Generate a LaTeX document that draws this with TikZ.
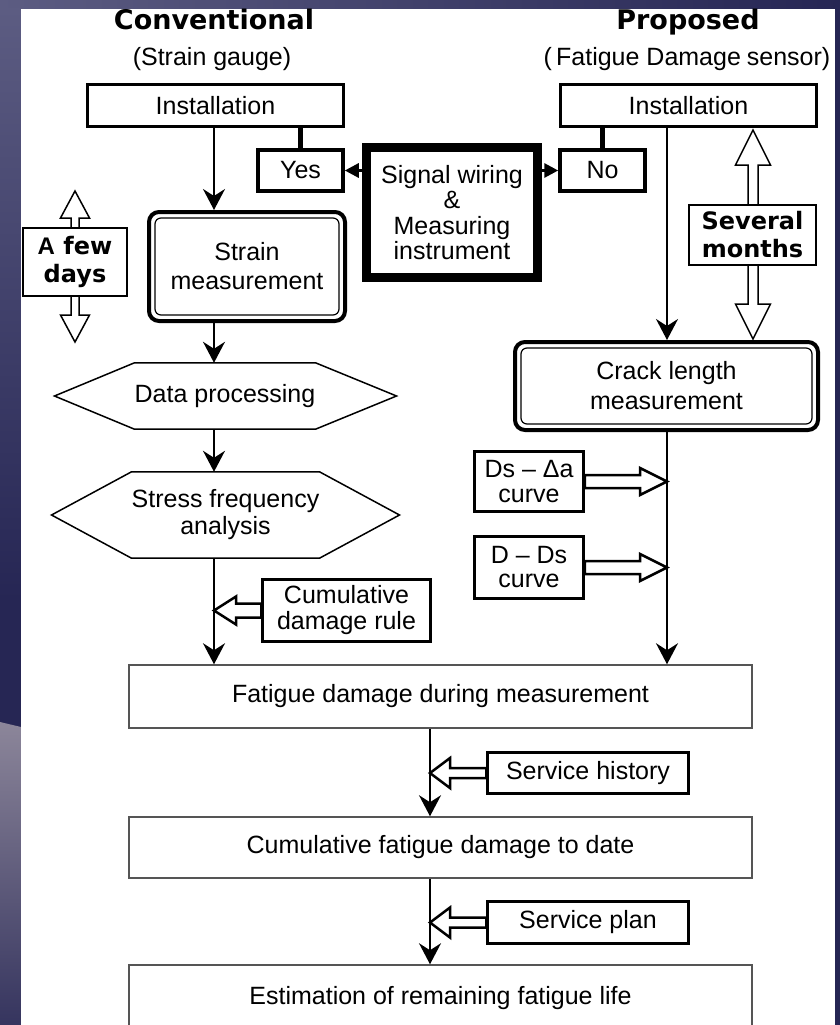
\documentclass[tikz,border=0pt]{standalone}
\usepackage{fontspec}
\setmainfont{Liberation Sans}
\newfontfamily\heavy{DejaVu Sans}
\usetikzlibrary{arrows.meta,calc}

\definecolor{navy}{RGB}{38,38,84}
\definecolor{slateL}{RGB}{92,92,130}
\definecolor{slateM}{RGB}{142,138,164}
\definecolor{slateW}{RGB}{140,134,154}
\definecolor{frame}{RGB}{85,85,85}

% hollow side arrow: #1 box anchor, #2 tip, #3 shaft half, #4 head half, #5 head length
\newcommand{\sidearrow}[5]{%
  \draw[hollow] (#2) -- ($(#2)!#5pt!(#1)+(0,#4)$) -- ($(#2)!#5pt!(#1)+(0,#3)$)
    -- ($(#1)+(0,#3)$) -- ($(#1)+(0,-#3)$) -- ($(#2)!#5pt!(#1)+(0,-#3)$)
    -- ($(#2)!#5pt!(#1)+(0,-#4)$) -- cycle;}
% hollow double arrow, vertical: #1 top tip, #2 bottom tip, #3 shaft half, #4 head half, #5 head length
\newcommand{\spanarrow}[5]{%
  \draw[hollow, line width=1.5pt] (#1) -- ++(#4,#5) -- ++({#3-#4},0) -- ($(#2)+(#3,-#5)$)
    -- ++({#4-#3},0) -- (#2) -- ++(-#4,-#5) -- ++({#4-#3},0) -- ($(#1)+(-#3,#5)$)
    -- ++({#3-#4},0) -- cycle;}

\begin{document}
\begin{tikzpicture}[x=1pt,y=-1pt,
  font=\fontsize{25}{27}\selectfont,
  box/.style={draw, line width=2.5pt, inner sep=0pt, align=center, fill=white},
  thinbox/.style={draw=frame, line width=1.5pt, inner sep=0pt, align=center, fill=white},
  choice/.style={draw, line width=3.5pt, inner sep=0pt, minimum width=85pt, minimum height=41pt},
  measure/.style={draw, line width=4pt, rounded corners=10pt, inner sep=0pt, align=center},
  heading/.style={anchor=base, font=\heavy\bfseries\fontsize{27}{30}\selectfont},
  period/.style={thinbox, draw=black, font=\heavy\bfseries\fontsize{24}{28}\selectfont},
  hollow/.style={draw, fill=white, line width=2.5pt, line join=miter},
  hexline/.style={draw, line width=1.5pt},
  flow/.style={line width=2pt, -{Stealth[length=21pt,width=22pt,inset=7pt]}},
  wire/.style={line width=3pt, -{Triangle[length=14pt,width=14pt]}}]

\useasboundingbox (0,0) rectangle (840,1025);
\clip (0,0) rectangle (840,1025);

% slide background
\fill[navy] (0,0) rectangle (840,1025);
\shade[left color=slateL, middle color=slateM, right color=navy] (0,0) rectangle (840,9);
\shade[top color=slateL, bottom color=navy] (0,9) rectangle (21,600);
\shade[top color=slateW, bottom color=navy!85!slateW] (0,722) -- (21,727) -- (21,1025) -- (0,1025) -- cycle;
\shade[top color=navy, middle color=navy!80!slateW, bottom color=navy] (835,0) rectangle (840,1025);
\fill[white] (21,9) rectangle (835,1025);

\coordinate (cl) at (214,0);
\coordinate (cr) at (667,0);
\coordinate (cm) at (430,0);

\node[heading] (conv) at (214,30) {Conventional};
\node[anchor=base] (convsub) at (212,66) {(Strain gauge)};
\node[heading] (prop) at (688,30) {Proposed};
\node[anchor=base] (propsub) at (687,66) {(\,Fatigue Damage\hspace{6pt}sensor)};

\node[box, minimum width=256pt, minimum height=42pt] (inst1) at (215.5,105.5) {Installation};
\node[box, minimum width=256pt, minimum height=42pt] (inst2) at (688.5,105.5) {Installation};

\node[choice] (yes) at (300.5,170.5) {Yes};
\node[choice] (no) at (602.5,170.5) {No};
\node[draw, line width=9pt, inner sep=0pt, minimum width=171pt, minimum height=130pt,
  align=center, font=\fontsize{25}{25.5}\selectfont] (sig) at (452,212.5)
  {Signal wiring\\\&\\Measuring\\instrument};

\draw[line width=5pt] (inst1.south -| yes.north) -- (yes.north);
\draw[line width=5pt] (inst2.south -| no.north) -- (no.north);
\draw[wire] (yes.east -| sig.west) -- (yes.east);
\draw[wire] (no.west -| sig.east) -- (no.west);

\node[measure, minimum width=196pt, minimum height=109pt, font=\fontsize{25}{29}\selectfont]
  (sm) at (247,266.5) {Strain\\measurement};
\draw[line width=1.2pt, rounded corners=6pt] ([shift={(8,8)}]sm.north west) rectangle ([shift={(-8,-8)}]sm.south east);
\node[measure, minimum width=303pt, minimum height=88pt, font=\fontsize{25}{30}\selectfont]
  (crack) at (666.5,386) {Crack length\\measurement};
\draw[line width=1.2pt, rounded corners=6pt] ([shift={(8,8)}]crack.north west) rectangle ([shift={(-8,-8)}]crack.south east);

% time spans
\coordinate (fdtop) at (75,191);
\coordinate (fdbot) at (75,342);
\spanarrow{fdtop}{fdbot}{4}{14.5}{27}
\node[period, minimum width=104pt, minimum height=68pt] (fd) at (75,262)
  {{\fontspec{Liberation Sans}A} few\\days};
\coordinate (smtop) at (753,130);
\coordinate (smbot) at (753,339);
\spanarrow{smtop}{smbot}{5}{17.5}{35}
\node[period, minimum width=127pt, minimum height=60pt] (sev) at (752.5,235)
  {Several\\months};

% processing steps
\node[minimum width=164pt, minimum height=66pt, inner sep=0pt] (dp) at (225,396) {Data processing};
\draw[hexline] ($(dp.west)+(-80,0)$) -- (dp.north west) -- (dp.north east) -- ($(dp.east)+(81,0)$)
  -- (dp.south east) -- (dp.south west) -- cycle;
\node[minimum width=165pt, minimum height=86pt, inner sep=0pt, align=center] (sfa) at (225.5,515)
  {Stress frequency\\analysis};
\draw[hexline] ($(sfa.west)+(-80,0)$) -- (sfa.north west) -- (sfa.north east) -- ($(sfa.east)+(80,0)$)
  -- (sfa.south east) -- (sfa.south west) -- cycle;

\node[box, minimum width=168pt, minimum height=62pt, font=\fontsize{25}{26}\selectfont] (cdr) at (346.5,610.5)
  {Cumulative\\damage rule};
\node[box, minimum width=109pt, minimum height=60pt, font=\fontsize{25}{25}\selectfont] (dsa) at (529,481.5)
  {Ds -- Δa\\curve};
\node[box, minimum width=109pt, minimum height=62pt, font=\fontsize{25}{24}\selectfont] (dds) at (529,567.5)
  {D -- Ds\\curve};

\node[thinbox, minimum width=623pt, minimum height=63pt] (fdm) at (440.5,696.5)
  {Fatigue damage during measurement};
\node[box, minimum width=201pt, minimum height=41pt] (sh) at (588,773) {Service history};
\node[thinbox, minimum width=623pt, minimum height=61pt] (cfd) at (440.5,847.5)
  {Cumulative fatigue damage to date};
\node[box, minimum width=201pt, minimum height=42pt] (sp) at (588,922.5) {Service plan};
\node[thinbox, minimum width=623pt, minimum height=66pt] (est) at (440.5,998)
  {Estimation of remaining fatigue life};

\draw[flow] (inst1.south -| cl) -- (sm.north -| cl);
\draw[flow] (sm.south -| cl) -- (dp.north -| cl);
\draw[flow] (dp.south -| cl) -- (sfa.north -| cl);
\draw[flow] (sfa.south -| cl) -- (fdm.north -| cl);
\draw[flow] (inst2.south -| cr) -- (crack.north -| cr);
\draw[flow] (crack.south -| cr) -- (fdm.north -| cr);
\draw[flow] (fdm.south -| cm) -- (cfd.north -| cm);
\draw[flow] (cfd.south -| cm) -- (est.north -| cm);

\sidearrow{cdr.west}{cdr.west -| cl}{7}{14}{22}
\sidearrow{dsa.east}{dsa.east -| cr}{6.5}{13.5}{27}
\sidearrow{dds.east}{dds.east -| cr}{6.5}{13.5}{27}
\sidearrow{sh.west}{sh.west -| cm}{5}{15}{20}
\sidearrow{sp.west}{sp.west -| cm}{5}{15}{20}
\end{tikzpicture}
\end{document}
